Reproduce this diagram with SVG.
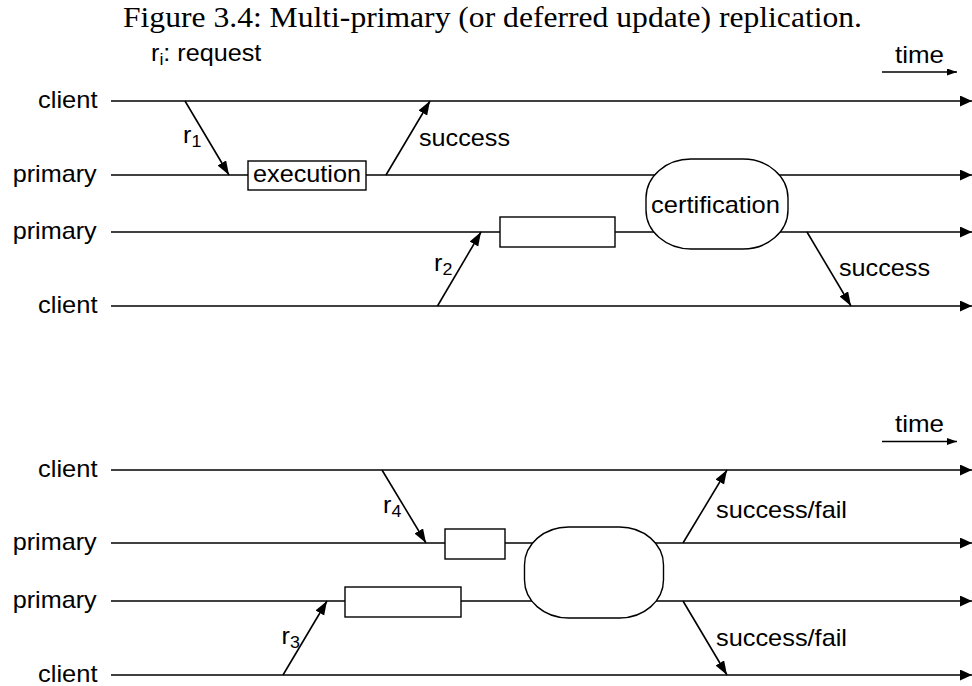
<svg xmlns="http://www.w3.org/2000/svg" width="972" height="686" viewBox="0 0 972 686">
<style>
  .bg{fill:#fff}
  .ln{stroke:#000;stroke-width:1.6;fill:none}
  .box{fill:#fff;stroke:#000;stroke-width:1.4}
  .t{font-family:"Liberation Sans",Arial,Helvetica,sans-serif;font-size:24px;fill:#000}
  .sub{font-size:17px}
  .title{font-family:"Liberation Serif","Times New Roman",serif;font-size:29px;fill:#000}
</style>
<defs>
  <marker id="ah" markerUnits="userSpaceOnUse" markerWidth="13" markerHeight="12" refX="12" refY="5.5" orient="auto">
    <path d="M0,0 L12,5.5 L0,11 Z" fill="#000"/>
  </marker>
  <marker id="dh" markerUnits="userSpaceOnUse" markerWidth="15" markerHeight="11" refX="14" refY="5" orient="auto">
    <path d="M0,0 L14,5 L0,10 Z" fill="#000"/>
  </marker>
  <marker id="th" markerUnits="userSpaceOnUse" markerWidth="11" markerHeight="8" refX="10" refY="3.5" orient="auto">
    <path d="M0,0 L10,3.5 L0,7 Z" fill="#000"/>
  </marker>
</defs>
<rect class="bg" x="0" y="0" width="972" height="686"/>

<g id="title">
  <text class="title" x="123" y="27" textLength="739" lengthAdjust="spacingAndGlyphs">Figure 3.4: Multi-primary (or deferred update) replication.</text>
</g>
<g id="legend">
  <text class="t" transform="translate(151,61) scale(1.05,1)">r<tspan class="sub" dy="4">i</tspan><tspan dy="-4">: request</tspan></text>
</g>

<g id="connectors">
  <line class="ln" x1="111" y1="101" x2="972" y2="101" marker-end="url(#ah)"/>
  <line class="ln" x1="111" y1="175" x2="972" y2="175" marker-end="url(#ah)"/>
  <line class="ln" x1="111" y1="232" x2="972" y2="232" marker-end="url(#ah)"/>
  <line class="ln" x1="111" y1="306" x2="972" y2="306" marker-end="url(#ah)"/>
  <line class="ln" x1="111" y1="470" x2="972" y2="470" marker-end="url(#ah)"/>
  <line class="ln" x1="111" y1="543" x2="972" y2="543" marker-end="url(#ah)"/>
  <line class="ln" x1="111" y1="601" x2="972" y2="601" marker-end="url(#ah)"/>
  <line class="ln" x1="111" y1="675" x2="972" y2="675" marker-end="url(#ah)"/>
  <line class="ln" x1="882" y1="72" x2="957" y2="72" marker-end="url(#th)"/>
  <line class="ln" x1="882" y1="441.5" x2="957" y2="441.5" marker-end="url(#th)"/>
  <line class="ln" x1="185" y1="101" x2="229" y2="175" marker-end="url(#dh)"/>
  <line class="ln" x1="386" y1="175" x2="430" y2="101" marker-end="url(#dh)"/>
  <line class="ln" x1="437.5" y1="306" x2="481" y2="232" marker-end="url(#dh)"/>
  <line class="ln" x1="807" y1="232" x2="851" y2="306" marker-end="url(#dh)"/>
  <line class="ln" x1="382" y1="470" x2="426" y2="543" marker-end="url(#dh)"/>
  <line class="ln" x1="683" y1="543" x2="727" y2="470" marker-end="url(#dh)"/>
  <line class="ln" x1="283" y1="675" x2="327" y2="601" marker-end="url(#dh)"/>
  <line class="ln" x1="683" y1="601" x2="727" y2="675" marker-end="url(#dh)"/>
</g>

<g id="lifeline-labels">
  <text class="t" x="38" y="108" textLength="59.5" lengthAdjust="spacingAndGlyphs">client</text>
  <text class="t" x="12.7" y="182" textLength="84" lengthAdjust="spacingAndGlyphs">primary</text>
  <text class="t" x="12.7" y="239" textLength="84" lengthAdjust="spacingAndGlyphs">primary</text>
  <text class="t" x="38" y="313" textLength="59.5" lengthAdjust="spacingAndGlyphs">client</text>
  <text class="t" x="38" y="477" textLength="59.5" lengthAdjust="spacingAndGlyphs">client</text>
  <text class="t" x="12.7" y="550" textLength="84" lengthAdjust="spacingAndGlyphs">primary</text>
  <text class="t" x="12.7" y="608" textLength="84" lengthAdjust="spacingAndGlyphs">primary</text>
  <text class="t" x="38" y="682" textLength="59.5" lengthAdjust="spacingAndGlyphs">client</text>
</g>

<g id="time-labels">
  <text class="t" x="895" y="63" textLength="49" lengthAdjust="spacingAndGlyphs">time</text>
  <text class="t" x="895" y="432" textLength="49" lengthAdjust="spacingAndGlyphs">time</text>
</g>

<g id="message-labels">
  <text class="t" transform="translate(183,143) scale(1.05,1)">r<tspan class="sub" dy="4">1</tspan></text>
  <text class="t" x="419" y="146" textLength="91" lengthAdjust="spacingAndGlyphs">success</text>
  <text class="t" transform="translate(434,271) scale(1.05,1)">r<tspan class="sub" dy="4">2</tspan></text>
  <text class="t" x="839" y="276" textLength="91" lengthAdjust="spacingAndGlyphs">success</text>
  <text class="t" transform="translate(383,513) scale(1.05,1)">r<tspan class="sub" dy="4">4</tspan></text>
  <text class="t" x="716" y="518" textLength="131" lengthAdjust="spacingAndGlyphs">success/fail</text>
  <text class="t" transform="translate(281.5,644) scale(1.05,1)">r<tspan class="sub" dy="4">3</tspan></text>
  <text class="t" x="716" y="646" textLength="131" lengthAdjust="spacingAndGlyphs">success/fail</text>
</g>

<g id="execution">
  <rect class="box" x="248" y="161" width="118" height="29"/>
  <text class="t" x="253" y="182" textLength="108" lengthAdjust="spacingAndGlyphs">execution</text>
</g>
<g id="exec2">
  <rect class="box" x="500" y="217" width="115" height="30"/>
</g>
<g id="certification">
  <rect class="box" x="646" y="159" width="142" height="90" rx="45" ry="39"/>
  <text class="t" x="651" y="213" textLength="129" lengthAdjust="spacingAndGlyphs">certification</text>
</g>
<g id="exec4">
  <rect class="box" x="445" y="529" width="60" height="30"/>
</g>
<g id="exec3">
  <rect class="box" x="345" y="587" width="116" height="30"/>
</g>
<g id="certification2">
  <rect class="box" x="524.5" y="527" width="139" height="91" rx="44" ry="38"/>
</g>
</svg>
